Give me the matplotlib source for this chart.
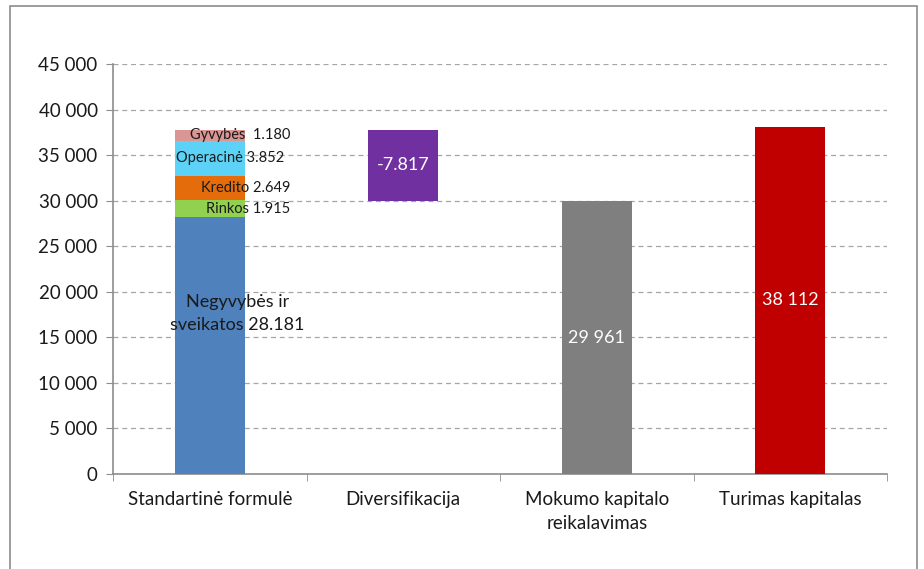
import matplotlib
matplotlib.use("Agg")
import matplotlib.pyplot as plt
from matplotlib.patches import Rectangle
from matplotlib.ticker import FuncFormatter, FixedLocator

plt.rcParams['font.family'] = ['Lato', 'DejaVu Sans']

categories = ["Standartinė formulė", "Diversifikacija", "Mokumo kapitalo\nreikalavimas", "Turimas kapitalas"]
seg_names = ["Negyvybės ir\nsveikatos", "Rinkos", "Kredito", "Operacinė", "Gyvybės"]
seg_values = [28181, 1915, 2649, 3852, 1180]
seg_labels = ["Negyvybės ir\nsveikatos 28.181", "Rinkos 1.915", "Kredito 2.649", "Operacinė 3.852", "Gyvybės  1.180"]
seg_colors = ["#4F81BD", "#92D050", "#E46C0A", "#5DD2F7", "#D99694"]
diversification = -7817
diversification_label = "-7.817"
scr = 29961
scr_label = "29 961"
own_funds = 38112
own_funds_label = "38 112"
yticks = [0, 5000, 10000, 15000, 20000, 25000, 30000, 35000, 40000, 45000]

# label offsets (points) relative to bar centre / segment middle
seg_label_offsets = [(20, 23), (58, 0), (58, 0), (54, 0), (58, 0)]

fig = plt.figure(figsize=(9.24, 5.69), dpi=100)
fig.patches.append(Rectangle((10/924, -0.05), (917-10)/924, 1.05 - 6/569, transform=fig.transFigure,
                             fill=False, edgecolor="#8C8C8C", linewidth=1.2))
ax = fig.add_axes([113/924, 1-474/569, (887-113)/924, (474-64)/569])

x = list(range(len(categories)))
w = 0.36
bottom = 0
for i, (v, c) in enumerate(zip(seg_values, seg_colors)):
    ax.bar(x[0], v, width=w, bottom=bottom, color=c, zorder=3)
    bottom += v
total_sf = bottom

ax.bar(x[1], -diversification, width=w, bottom=total_sf + diversification, color="#7030A0", zorder=3)
ax.bar(x[2], scr, width=w, color="#7F7F7F", zorder=3)
ax.bar(x[3], own_funds, width=w, color="#C00000", zorder=3)

b = 0
for i, (v, lab) in enumerate(zip(seg_values, seg_labels)):
    mid = b + v / 2
    dx, dy = seg_label_offsets[i]
    if i == 0:
        ax.annotate(lab, (x[0], mid), xytext=(dx, dy), textcoords="offset points", ha="center", va="center",
                    fontsize=13, color="#1a1a1a", zorder=4, linespacing=1.5)
    else:
        ax.annotate(lab, (x[0], mid), xytext=(dx, dy), textcoords="offset points", ha="right", va="center",
                    fontsize=10.5, color="#1a1a1a", zorder=4)
    b += v

ax.text(x[1], total_sf + diversification / 2, diversification_label, ha="center", va="center",
        fontsize=13, color="white", zorder=4)
ax.text(x[2], scr / 2, scr_label, ha="center", va="center", fontsize=13, color="white", zorder=4)
ax.text(x[3], own_funds / 2, own_funds_label, ha="center", va="center", fontsize=13, color="white", zorder=4)

ax.set_xlim(-0.5, len(categories) - 0.5)
ax.set_ylim(0, 45000)
ax.set_yticks(yticks)
ax.yaxis.set_major_formatter(FuncFormatter(lambda v, p: f"{int(v):,}".replace(",", " ")))
ax.set_xticks(x)
ax.set_xticklabels(categories, fontsize=13.5, color="#1a1a1a", linespacing=1.55)
ax.tick_params(axis="x", which="major", length=0, pad=12)
ax.xaxis.set_minor_locator(FixedLocator([i - 0.5 for i in range(len(categories) + 1)]))
ax.tick_params(axis="x", which="minor", length=5, color="#8C8C8C")
ax.tick_params(axis="y", length=5, color="#8C8C8C", labelsize=13.5, labelcolor="#1a1a1a", pad=6)

for yv in yticks[1:]:
    ax.axhline(yv, color="#A6A6A6", linestyle=(0, (4, 3)), linewidth=0.9, zorder=1)

for s in ["top", "right"]:
    ax.spines[s].set_visible(False)
for s in ["left", "bottom"]:
    ax.spines[s].set_color("#8C8C8C")
    ax.spines[s].set_linewidth(1.2)

fig.savefig("out.png", dpi=100)
